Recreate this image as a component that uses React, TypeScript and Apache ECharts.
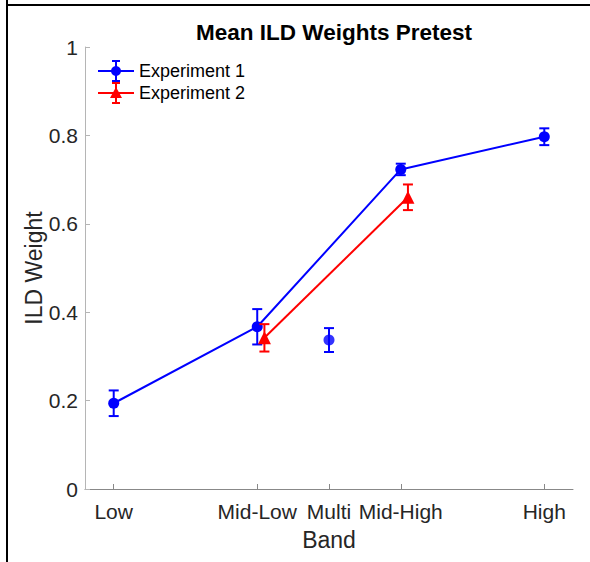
import React, { useEffect, useRef } from "react";
import * as echarts from "echarts";

const bands = ["Low", "Mid-Low", "Multi", "Mid-High", "High"];
const bandPos = [1, 3, 4, 5, 7];
const yTicks = [0, 0.2, 0.4, 0.6, 0.8, 1];

// Experiment 1 (all bands)
const exp1Mean = [0.194, 0.367, 0.337, 0.723, 0.797];
const exp1Err = [0.029, 0.04, 0.027, 0.013, 0.019];
const exp1LineIdx = [0, 1, 3, 4];
const exp1AloneIdx = [2];

// Experiment 2 (Mid-Low, Mid-High), plotted with a small x offset
const exp2Pos = [3.1, 5.1];
const exp2Mean = [0.342, 0.66];
const exp2Err = [0.031, 0.029];

const BLUE = "#0000ff";
const RED = "#ff0000";
const FONT = "Liberation Sans, Arial, sans-serif";

const errRender = (color: string) => (params: any, api: any) => {
  const x = api.value(0);
  const lo = api.value(1);
  const hi = api.value(2);
  const a = api.coord([x, lo]);
  const b = api.coord([x, hi]);
  const w = 5;
  const st = { stroke: color, lineWidth: 2 };
  return {
    type: "group",
    children: [
      { type: "line", shape: { x1: a[0], y1: a[1], x2: b[0], y2: b[1] }, style: st },
      { type: "line", shape: { x1: a[0] - w, y1: a[1], x2: a[0] + w, y2: a[1] }, style: st },
      { type: "line", shape: { x1: b[0] - w, y1: b[1], x2: b[0] + w, y2: b[1] }, style: st },
    ],
  };
};

const legendItem = (y: number, color: string, label: string, tri: boolean) => {
  const st = { stroke: color, lineWidth: 2 };
  const cx = 116;
  const marker = tri
    ? {
        type: "polygon",
        shape: { points: [[cx, y - 6], [cx - 6, y + 5], [cx + 6, y + 5]] },
        style: { fill: color },
      }
    : { type: "circle", shape: { cx, cy: y, r: 5 }, style: { fill: color } };
  return [
    { type: "line", shape: { x1: 98, y1: y, x2: 134, y2: y }, style: st },
    { type: "line", shape: { x1: cx, y1: y - 10, x2: cx, y2: y + 10 }, style: st },
    { type: "line", shape: { x1: cx - 4, y1: y - 10, x2: cx + 4, y2: y - 10 }, style: st },
    { type: "line", shape: { x1: cx - 4, y1: y + 10, x2: cx + 4, y2: y + 10 }, style: st },
    marker,
    {
      type: "text",
      x: 139,
      y,
      style: { text: label, fill: "#000", font: `18px ${FONT}`, textVerticalAlign: "middle" },
    },
  ];
};

export default function App() {
  const ref = useRef<HTMLDivElement>(null);
  useEffect(() => {
    if (!ref.current) return;
    const chart = echarts.init(ref.current, null, { renderer: "svg" });
    const exp1Line = exp1LineIdx.map((i) => [bandPos[i], exp1Mean[i]]);
    const exp1Alone = exp1AloneIdx.map((i) => [bandPos[i], exp1Mean[i]]);
    const exp1Bars = bandPos.map((p, i) => [p, exp1Mean[i] - exp1Err[i], exp1Mean[i] + exp1Err[i]]);
    const exp2Line = exp2Pos.map((p, i) => [p, exp2Mean[i]]);
    const exp2Bars = exp2Pos.map((p, i) => [p, exp2Mean[i] - exp2Err[i], exp2Mean[i] + exp2Err[i]]);

    chart.setOption({
      animation: false,
      backgroundColor: "#fff",
      title: {
        text: "Mean ILD Weights Pretest",
        left: 329,
        top: 16,
        textAlign: "center",
        textStyle: { fontFamily: FONT, fontSize: 22.5, fontWeight: "bold", color: "#000" },
      },
      grid: { left: 85, right: 17, top: 47, bottom: 73 },
      xAxis: {
        type: "value",
        min: 0.6,
        max: 7.4,
        name: "Band",
        nameLocation: "middle",
        nameGap: 39,
        nameMoveOverlap: false,
        nameTextStyle: { fontFamily: FONT, fontSize: 23, color: "#262626" },
        axisLine: { show: true, lineStyle: { color: "#888", width: 1 } },
        axisTick: { show: true, inside: true, length: 5, customValues: bandPos, lineStyle: { color: "#888" } },
        axisLabel: {
          customValues: bandPos,
          formatter: (v: number) => bands[bandPos.indexOf(v)] ?? "",
          fontFamily: FONT,
          fontSize: 21,
          color: "#262626",
          margin: 12,
        },
        splitLine: { show: false },
      },
      yAxis: {
        type: "value",
        min: 0,
        max: 1,
        interval: 0.2,
        name: "ILD Weight",
        nameLocation: "middle",
        nameGap: 40,
        nameMoveOverlap: false,
        nameTextStyle: { fontFamily: FONT, fontSize: 23, color: "#262626" },
        axisLine: { show: true, lineStyle: { color: "#b5b5b5", width: 1 } },
        axisTick: { show: true, inside: true, length: 5, lineStyle: { color: "#b5b5b5" } },
        axisLabel: {
          customValues: yTicks,
          fontFamily: FONT,
          fontSize: 21,
          color: "#262626",
          margin: 7,
        },
        splitLine: { show: false },
      },
      series: [
        {
          type: "line",
          data: exp1Line,
          symbol: "circle",
          symbolSize: 11,
          itemStyle: { color: BLUE },
          lineStyle: { color: BLUE, width: 2 },
          z: 2,
        },
        {
          type: "scatter",
          data: exp1Alone,
          symbol: "circle",
          symbolSize: 11,
          itemStyle: { color: BLUE },
          z: 2,
        },
        { type: "custom", data: exp1Bars, renderItem: errRender(BLUE), z: 3 },
        {
          type: "line",
          data: exp2Line,
          symbol: "triangle",
          symbolSize: 13,
          itemStyle: { color: RED },
          lineStyle: { color: RED, width: 2 },
          z: 4,
        },
        { type: "custom", data: exp2Bars, renderItem: errRender(RED), z: 5 },
      ],
      graphic: [
        { type: "line", shape: { x1: 7, y1: 0, x2: 7, y2: 562 }, style: { stroke: "#000", lineWidth: 2 } },
        { type: "line", shape: { x1: 6, y1: 5, x2: 590, y2: 5 }, style: { stroke: "#000", lineWidth: 2 } },
        ...legendItem(71, BLUE, "Experiment 1", false),
        ...legendItem(93, RED, "Experiment 2", true),
      ],
    });
    return () => chart.dispose();
  }, []);
  return (
    <div
      ref={ref}
      style={{ position: "absolute", left: 0, top: 0, width: 590, height: 562 }}
    />
  );
}
